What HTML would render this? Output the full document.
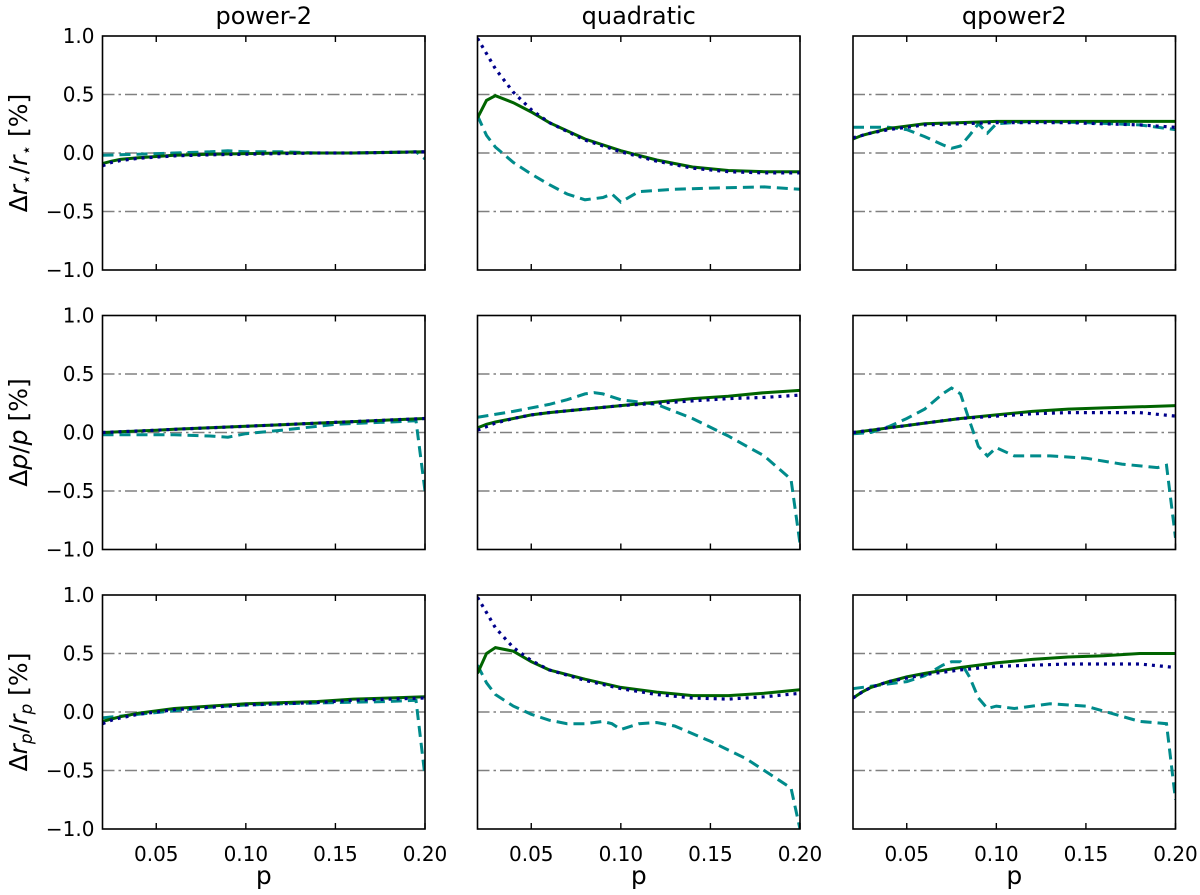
<!DOCTYPE html>
<html><head><meta charset="utf-8"><style>body{margin:0;background:#fff}svg{display:block;font-family:"DejaVu Sans","Liberation Sans",sans-serif}</style></head>
<body>
<svg id="chart" width="1200" height="895" viewBox="0 0 1200 895"></svg>
<script>
const G = [0.02,0.025,0.03,0.04,0.05,0.06,0.08,0.10,0.12,0.14,0.16,0.18,0.20];
const colTitles = ["power-2","quadratic","qpower2"];
const xTicks = [0.05,0.10,0.15,0.20];
const xTickLabels = ["0.05","0.10","0.15","0.20"];
const yTicks = [1.0,0.5,0.0,-0.5,-1.0];
const yTickLabels = ["1.0","0.5","0.0","\u22120.5","\u22121.0"];
const refLines = [0.5,0,-0.5];

// row 1
const p11Solid = [-0.09,-0.07,-0.055,-0.04,-0.03,-0.02,-0.01,-0.005,0,0,0,0.005,0.01];
const p11Dot = [-0.11,-0.08,-0.065,-0.045,-0.035,-0.025,-0.015,-0.01,-0.005,0,0,0.005,0.01];
const p11DashX = [0.02,0.04,0.06,0.08,0.09,0.1,0.12,0.14,0.16,0.18,0.195,0.2];
const p11DashY = [-0.02,-0.01,0,0.01,0.02,0.01,0.01,0,0,0.005,0.01,-0.05];
const p12Solid = [0.3,0.45,0.49,0.43,0.35,0.26,0.12,0.02,-0.06,-0.12,-0.15,-0.16,-0.16];
const p12Dot = [0.98,0.85,0.72,0.52,0.37,0.26,0.11,0.01,-0.07,-0.13,-0.16,-0.17,-0.17];
const p12DashX = [0.02,0.025,0.03,0.04,0.05,0.06,0.07,0.08,0.09,0.095,0.1,0.11,0.13,0.15,0.18,0.2];
const p12DashY = [0.32,0.15,0.05,-0.08,-0.18,-0.27,-0.35,-0.4,-0.38,-0.35,-0.42,-0.33,-0.31,-0.3,-0.29,-0.31];
const p13Solid = [0.12,0.15,0.17,0.21,0.23,0.25,0.26,0.27,0.27,0.27,0.27,0.27,0.27];
const p13Dot = [0.13,0.15,0.17,0.2,0.22,0.24,0.25,0.26,0.26,0.26,0.25,0.24,0.22];
const p13DashX = [0.02,0.04,0.05,0.06,0.07,0.075,0.08,0.085,0.09,0.095,0.1,0.12,0.15,0.18,0.2];
const p13DashY = [0.22,0.22,0.2,0.14,0.07,0.04,0.06,0.15,0.25,0.17,0.25,0.27,0.26,0.24,0.2];
// row 2
const p21Solid = [0,0.003,0.007,0.013,0.02,0.027,0.04,0.053,0.067,0.08,0.093,0.107,0.12];
const p21Dot = [0,0.003,0.007,0.013,0.02,0.027,0.04,0.053,0.067,0.08,0.093,0.107,0.12];
const p21DashX = [0.02,0.06,0.08,0.09,0.1,0.12,0.15,0.18,0.195,0.2];
const p21DashY = [-0.02,-0.02,-0.03,-0.04,-0.01,0.02,0.07,0.09,0.1,-0.5];
const p22Solid = [0.04,0.07,0.09,0.12,0.15,0.17,0.2,0.23,0.26,0.29,0.31,0.34,0.36];
const p22Dot = [0.02,0.05,0.08,0.12,0.15,0.17,0.2,0.23,0.25,0.27,0.29,0.3,0.32];
const p22DashX = [0.02,0.04,0.06,0.07,0.08,0.085,0.09,0.1,0.12,0.14,0.16,0.18,0.195,0.2];
const p22DashY = [0.13,0.18,0.24,0.28,0.33,0.34,0.33,0.28,0.24,0.12,-0.03,-0.2,-0.4,-0.95];
const p23Solid = [0,0.01,0.02,0.04,0.06,0.08,0.12,0.15,0.18,0.2,0.21,0.22,0.23];
const p23Dot = [0,0.01,0.02,0.04,0.06,0.08,0.12,0.14,0.16,0.17,0.17,0.17,0.14];
const p23DashX = [0.02,0.03,0.04,0.05,0.06,0.07,0.075,0.08,0.085,0.09,0.095,0.1,0.11,0.13,0.15,0.17,0.19,0.195,0.2];
const p23DashY = [-0.01,0,0.05,0.12,0.2,0.33,0.38,0.33,0.1,-0.12,-0.2,-0.13,-0.2,-0.2,-0.22,-0.27,-0.3,-0.28,-0.9];
// row 3
const p31Solid = [-0.08,-0.06,-0.04,-0.01,0.01,0.03,0.05,0.07,0.08,0.09,0.11,0.12,0.13];
const p31Dot = [-0.1,-0.07,-0.05,-0.02,0,0.02,0.04,0.06,0.07,0.08,0.1,0.11,0.12];
const p31DashX = [0.02,0.04,0.06,0.08,0.09,0.1,0.12,0.15,0.18,0.195,0.2];
const p31DashY = [-0.05,-0.02,0.01,0.04,0.05,0.06,0.07,0.08,0.09,0.1,-0.55];
const p32Solid = [0.33,0.5,0.55,0.52,0.43,0.36,0.28,0.21,0.17,0.14,0.14,0.16,0.19];
const p32Dot = [0.98,0.85,0.72,0.55,0.44,0.36,0.27,0.2,0.15,0.12,0.11,0.13,0.16];
const p32DashX = [0.02,0.025,0.03,0.04,0.05,0.06,0.07,0.08,0.09,0.095,0.1,0.11,0.12,0.13,0.15,0.17,0.195,0.2];
const p32DashY = [0.4,0.25,0.15,0.05,-0.02,-0.07,-0.1,-0.1,-0.08,-0.1,-0.15,-0.1,-0.09,-0.12,-0.25,-0.4,-0.65,-1.0];
const p33Solid = [0.12,0.17,0.21,0.26,0.3,0.33,0.38,0.42,0.45,0.47,0.48,0.5,0.5];
const p33Dot = [0.12,0.17,0.21,0.26,0.29,0.32,0.36,0.39,0.4,0.41,0.41,0.41,0.38];
const p33DashX = [0.02,0.03,0.04,0.05,0.06,0.07,0.075,0.08,0.085,0.09,0.095,0.1,0.11,0.13,0.15,0.18,0.195,0.2];
const p33DashY = [0.2,0.22,0.24,0.26,0.31,0.4,0.43,0.43,0.3,0.12,0.03,0.05,0.03,0.07,0.05,-0.08,-0.1,-0.75];

const panels = [
 [[p11Solid,p11Dot,p11DashX,p11DashY],[p12Solid,p12Dot,p12DashX,p12DashY],[p13Solid,p13Dot,p13DashX,p13DashY]],
 [[p21Solid,p21Dot,p21DashX,p21DashY],[p22Solid,p22Dot,p22DashX,p22DashY],[p23Solid,p23Dot,p23DashX,p23DashY]],
 [[p31Solid,p31Dot,p31DashX,p31DashY],[p32Solid,p32Dot,p32DashX,p32DashY],[p33Solid,p33Dot,p33DashX,p33DashY]]
];

const NS = "http://www.w3.org/2000/svg";
const svg = document.getElementById("chart");
function mk(tag, attrs, parent){ const e=document.createElementNS(NS,tag); for(const k in attrs) e.setAttribute(k,attrs[k]); (parent||svg).appendChild(e); return e; }

const colX = [102.5, 477.5, 853];
const rowY = [36, 315.5, 595];
const W = 322.5, H = 234;
const xmin = 0.02, xmax = 0.20, ymin = -1, ymax = 1;

for (let r=0;r<3;r++) for (let c=0;c<3;c++) {
  const x0=colX[c], y0=rowY[r];
  const sx = v => x0 + (v-xmin)/(xmax-xmin)*W;
  const sy = v => y0 + (ymax-v)/(ymax-ymin)*H;
  const g = mk("g",{});
  
  
  const cp = mk("clipPath",{id:"cp"+r+c},g);
  mk("rect",{x:x0,y:y0,width:W,height:H},cp);
  refLines.forEach(v=>{
    const l=mk("line",{x1:x0,x2:x0+W,y1:sy(v),y2:sy(v),stroke:"#808080","stroke-width":1.6,"stroke-dasharray":"12,4,2.5,4"},g);
    
    
  });
  const [sol,dot,dx,dy] = panels[r][c];
  const pts = (xs,ys)=>xs.map((x,i)=>sx(x).toFixed(1)+","+sy(ys[i]).toFixed(1)).join(" ");
  const sd = mk("polyline",{points:pts(dx,dy),fill:"none",stroke:"#008b8b","stroke-width":3,"stroke-dasharray":"11,6","clip-path":"url(#cp"+r+c+")"},g);
  
  
  const ss = mk("polyline",{points:pts(G,sol),fill:"none",stroke:"#006400","stroke-width":3,"clip-path":"url(#cp"+r+c+")"},g);
  
  
  const so = mk("polyline",{points:pts(G,dot),fill:"none",stroke:"#00008b","stroke-width":3.2,"stroke-dasharray":"3,5","clip-path":"url(#cp"+r+c+")"},g);
  
  
  const fr = mk("rect",{x:x0,y:y0,width:W,height:H,fill:"none",stroke:"#000","stroke-width":1.6},g);
  
  
  xTicks.forEach((t,i)=>{
    mk("line",{x1:sx(t),x2:sx(t),y1:y0+H,y2:y0+H-6,stroke:"#000","stroke-width":1.4},g);
    mk("line",{x1:sx(t),x2:sx(t),y1:y0,y2:y0+6,stroke:"#000","stroke-width":1.4},g);
    if (r===2) {
      const tl=mk("text",{x:sx(t),y:y0+H+32,"text-anchor":"middle","font-size":20},g);
      tl.textContent=xTickLabels[i];
      
      
    }
  });
  if (c===0) yTicks.forEach((t,i)=>{
    const tl=mk("text",{x:x0-8,y:sy(t)+7,"text-anchor":"end","font-size":20},g);
    tl.textContent=yTickLabels[i];
    
    
  });
  if (r===0) {
    const t=mk("text",{x:x0+W/2,y:24,"text-anchor":"middle","font-size":24},g);
    t.textContent=colTitles[c];
    
    
  }
  if (r===2) {
    const t=mk("text",{x:x0+W/2,y:884,"text-anchor":"middle","font-size":25},g);
    t.textContent="p";
    
    
  }
}
// y-axis labels
const ylab = [
  [["Δ",""],["r","i"],["⋆","s"],["/",""],["r","i"],["⋆","s"],[" [%]",""]],
  [["Δ",""],["p","i"],["/",""],["p","i"],[" [%]",""]],
  [["Δ",""],["r","i"],["p","si"],["/",""],["r","i"],["p","si"],[" [%]",""]]
];
ylab.forEach((parts,r)=>{
  const cy = rowY[r]+H/2;
  const t = mk("text",{x:0,y:0,"text-anchor":"middle","font-size":25,transform:"translate(27,"+cy+") rotate(-90)"});
  
  
  let prevSub = false;
  parts.forEach(([s,f])=>{
    const sp = mk("tspan",{},t);
    sp.textContent=s;
    if (f.includes("i")) sp.setAttribute("font-style","italic");
    if (f.includes("s")) { sp.setAttribute("font-size","17"); sp.setAttribute("dy","5"); prevSub=true; }
    else { if (prevSub) sp.setAttribute("dy","-5"); prevSub=false; }
  });
});
</script>
</body></html>
